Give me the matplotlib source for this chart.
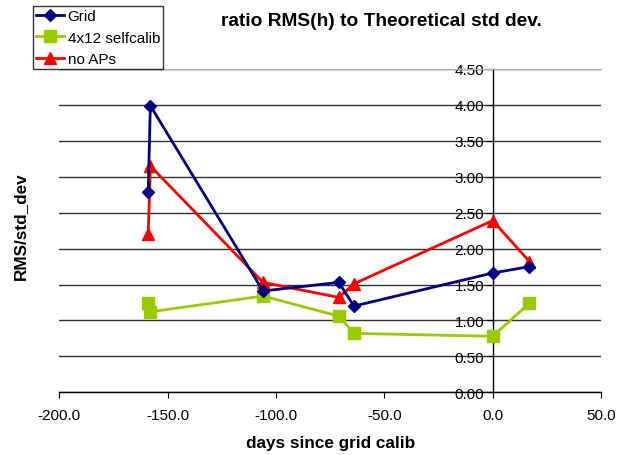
import matplotlib.pyplot as plt
from matplotlib.ticker import FormatStrFormatter, MultipleLocator

plt.rcParams['font.family'] = ['Liberation Sans', 'DejaVu Sans']

# days since grid calib
grid_x = [-159, -158, -106, -71, -64, 0, 17]
grid_y = [2.79, 3.99, 1.41, 1.53, 1.20, 1.66, 1.75]

self_x = [-159, -158, -106, -71, -64, 0, 17]
self_y = [1.24, 1.12, 1.34, 1.06, 0.82, 0.78, 1.24]

noap_x = [-159, -158, -106, -71, -64, 0, 17]
noap_y = [2.21, 3.15, 1.53, 1.32, 1.51, 2.39, 1.82]

fig = plt.figure(figsize=(6.25, 4.56), dpi=100)
ax = fig.add_axes([0.095, 0.1375, 0.8665, 0.709])

l1, = ax.plot(grid_x, grid_y, color='#000080', lw=2, marker='D', ms=6, zorder=5)
l2, = ax.plot(self_x, self_y, color='#99CC00', lw=2, marker='s', ms=8, zorder=3)
l3, = ax.plot(noap_x, noap_y, color='#FF0000', lw=2, marker='^', ms=8, zorder=4)

ax.set_xlim(-200, 50)
ax.set_ylim(0, 4.5)
ax.xaxis.set_major_locator(MultipleLocator(50))
ax.yaxis.set_major_locator(MultipleLocator(0.5))
ax.xaxis.set_major_formatter(FormatStrFormatter('%.1f'))
ax.yaxis.set_major_formatter(FormatStrFormatter('%.2f'))

ax.spines['left'].set_position(('data', 0))
ax.spines['right'].set_visible(False)
ax.spines['top'].set_color('#b0b0b0')
ax.spines['left'].set_linewidth(1)
ax.spines['bottom'].set_linewidth(1)
ax.tick_params(labelsize=11, length=4, direction='out', color='black')
ax.tick_params(axis='x', pad=7)
ax.tick_params(axis='y', pad=2)

ax.grid(axis='y', color='#303030', lw=1)
ax.set_axisbelow(True)
ax.get_ygridlines()[-1].set_visible(False)

ax.set_xlabel('days since grid calib', fontsize=12.3, fontweight='bold', labelpad=10)
fig.text(0.032, 0.505, 'RMS/std_dev', rotation=90, ha='center', va='center',
         fontsize=12.3, fontweight='bold')
fig.text(0.611, 0.952, 'ratio RMS(h) to Theoretical std dev.', ha='center',
         va='center', fontsize=13.8, fontweight='bold')

leg = fig.legend([l1, l2, l3], ['Grid', '4x12 selfcalib', 'no APs'],
                 loc='upper left', bbox_to_anchor=(0.053, 0.985), fontsize=11,
                 frameon=True, fancybox=False, edgecolor='black',
                 handlelength=1.85, handletextpad=0.2, borderpad=0.2,
                 labelspacing=0.5, borderaxespad=0)
leg.get_frame().set_linewidth(1)

fig.savefig('out.png', dpi=100)
